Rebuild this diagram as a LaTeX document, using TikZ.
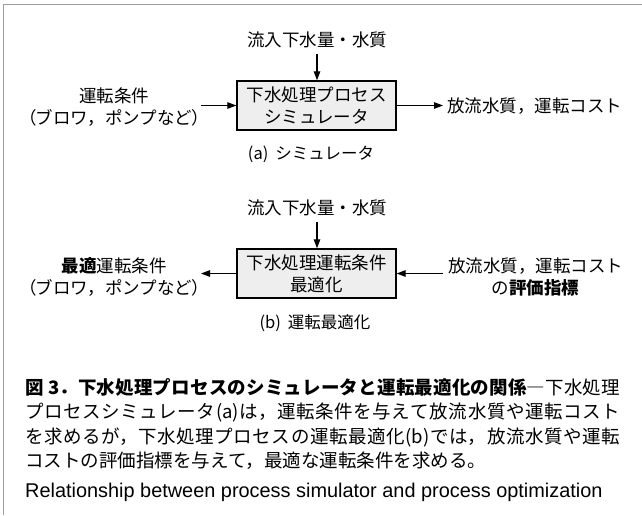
\documentclass[tikz,border=0pt]{standalone}
\usepackage{fontspec}
\setmainfont{Noto Sans CJK JP}
\newfontfamily\palt{Noto Sans CJK JP}[RawFeature=+palt]
\newfontfamily\enfont{Liberation Sans}
\usetikzlibrary{arrows.meta}
\XeTeXlinebreaklocale "ja"
\XeTeXlinebreakskip=0pt plus 3pt
\begin{document}
\begin{tikzpicture}[x=1pt,y=-1pt,
  lab/.style={font=\fontsize{17.5}{22}\selectfont, align=center, inner sep=0pt},
  procbox/.style={draw=black, fill=gray!13, line width=1.3pt, minimum width=159pt,
    minimum height=49pt, align=center, inner sep=0pt, font=\fontsize{17.5}{22}\selectfont},
  subcap/.style={font=\fontsize{16.5}{20}\selectfont, inner sep=0pt},
  arr/.style={line width=1.2pt, -{Triangle[length=9pt,width=6.5pt]}},
  frameline/.style={draw=gray!75, line width=1.5pt}]
\useasboundingbox (0,0) rectangle (642,515);
\draw[frameline] (3.5,515) -- (3.5,4.5) -- (642,4.5);

% (a)
\node[lab, inner sep=6pt] (ta) at (317,40) {流入下水量・水質};
\node[procbox] (boxa) at (316.5,105.5) {下水処理プロセス\\シミュレータ};
\node[lab] (la) at (114,107) {運転条件\\{\palt （}ブロワ，ポンプなど{\palt ）}};
\node[lab, anchor=west, inner sep=4pt] (ra) at (443,106) {放流水質，運転コスト};
\node[subcap] (capa) at (311,154) {(a)\hspace{7pt}シミュレータ};
\draw[arr] (ta.south) -- (ta.south |- boxa.north);
\draw[arr] (la.east |- boxa.west) -- (boxa.west);
\draw[arr] (boxa.east) -- (ra.west |- boxa.east);

% (b)
\node[lab, inner sep=6pt] (tb) at (317,208) {流入下水量・水質};
\node[procbox] (boxb) at (316.5,273.5) {下水処理運転条件\\最適化};
\node[lab] (lb) at (114,277) {\textbf{最適}運転条件\\{\palt （}ブロワ，ポンプなど{\palt ）}};
\node[lab, anchor=west, inner sep=5pt] (rb) at (443,276.5) {放流水質，運転コスト\\の\textbf{評価指標}};
\node[subcap] (capb) at (315,323) {(b)\hspace{7pt}運転最適化};
\draw[arr] (tb.south) -- (tb.south |- boxb.north);
\draw[arr] (boxb.west) -- (lb.east |- boxb.west);
\draw[arr] (rb.west |- boxb.east) -- (boxb.east);

% caption
\node[anchor=north west, text width=595pt, inner sep=0pt, align=justify,
  font=\fontsize{18.5}{24.5}\selectfont] (cap) at (25,378)
  {\tolerance=10000\relax\textbf{図 3．下水処理プロセスのシミュレータと運転最適化の関係}―下水処理\linebreak プロセスシミュレータ(a)は，運転条件を与えて放流水質や運転コスト\linebreak を求めるが，下水処理プロセスの運転最適化(b)では，放流水質や運転\linebreak コストの評価指標を与えて，最適な運転条件を求める。};
\node[anchor=base west, inner sep=0pt, font=\enfont\fontsize{19.9}{24}\selectfont] (eng) at (25,497)
  {Relationship between process simulator and process optimization};
\end{tikzpicture}
\end{document}
